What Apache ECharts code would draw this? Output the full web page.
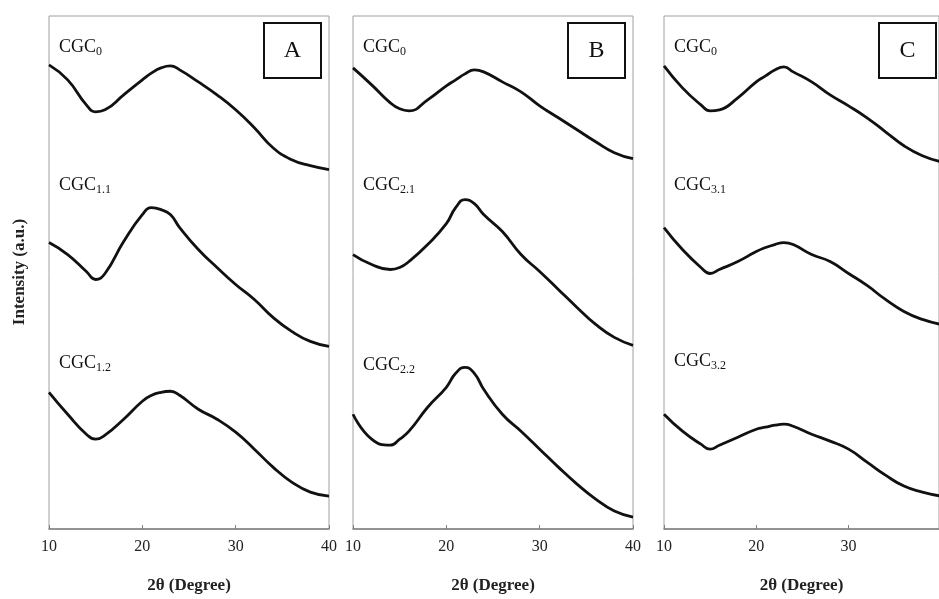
<!DOCTYPE html>
<html><head><meta charset="utf-8">
<script src="https://cdn.jsdelivr.net/npm/echarts@6/dist/echarts.min.js"></script>
<style>html,body{margin:0;padding:0;background:#fff;overflow:hidden}#c{width:939px;height:599px}</style>
</head><body><div id="c"></div>
<script>
const twoTheta = [10,12,14,15,16,18,20,21,22,23,24,26,28,30,32,34,36,38,40];
const xTicks = [10,20,30,40];
const panelNames = ['A','B','C'];
const curveLabels = [
  [['CGC','0'],['CGC','1.1'],['CGC','1.2']],
  [['CGC','0'],['CGC','2.1'],['CGC','2.2']],
  [['CGC','0'],['CGC','3.1'],['CGC','3.2']]
];
// intensity (a.u., stacked offsets)
const A_CGC0  = [465,450,425,418,420,435,450,457,462,464,460,448,435,420,402,382,370,364,360];
const A_CGC11 = [287,275,258,250,256,288,315,322,320,315,302,280,262,245,230,212,198,188,183];
const A_CGC12 = [137,115,95,90,94,110,128,134,137,138,134,120,110,97,80,62,47,37,33];
const B_CGC0  = [462,445,427,421,419,430,444,450,456,460,458,448,438,424,412,400,388,377,371];
const B_CGC21 = [275,265,260,262,268,285,306,322,330,326,315,298,275,258,240,222,205,192,184];
const B_CGC22 = [115,90,84,90,98,122,142,156,162,156,140,115,98,80,62,45,30,18,12];
const C_CGC0  = [464,442,425,419,420,432,448,454,460,463,458,448,435,424,412,398,384,374,368];
const C_CGC31 = [302,280,262,256,260,268,278,282,285,287,285,275,268,256,244,230,218,210,205];
const C_CGC32 = [115,98,85,80,84,92,100,102,104,105,103,95,88,80,67,54,43,37,33];
const panels = [[A_CGC0,A_CGC11,A_CGC12],[B_CGC0,B_CGC21,B_CGC22],[C_CGC0,C_CGC31,C_CGC32]];

const lefts = [49,353,664];
const serif = '"Liberation Serif","DejaVu Serif",serif';
const grids=[],xAxes=[],yAxes=[],series=[],graphics=[];
const labelY=[[38,176,354],[38,176,356],[38,176,352]];
panels.forEach((curves,p)=>{
  const g={left:lefts[p],top:16,height:514,show:true,borderColor:'#a0a0a0',borderWidth:1};
  if(p===2) g.right=0; else g.width=280;
  grids.push(g);
  xAxes.push({type:'value',gridIndex:p,min:10,max:p===2?39.8:40,interval:10,
    axisLine:{show:true,onZero:false,lineStyle:{color:'#808080',width:1.5}},
    axisTick:{show:true,inside:true,length:4,lineStyle:{color:'#808080'}},
    splitLine:{show:false},
    axisLabel:{fontFamily:serif,fontSize:16,color:'#222',margin:10,showMaxLabel:p!==2,
      formatter:v=>xTicks.includes(v)?String(v):''},
    name:'2θ (Degree)',nameLocation:'middle',nameGap:48,
    nameTextStyle:{fontFamily:serif,fontSize:17,fontWeight:'bold',color:'#222'}});
  yAxes.push({type:'value',gridIndex:p,min:0,max:514,show:false});
  curves.forEach((vals,i)=>{
    series.push({type:'line',xAxisIndex:p,yAxisIndex:p,smooth:0.5,showSymbol:false,
      data:twoTheta.map((x,k)=>[x,vals[k]]),
      lineStyle:{color:'#111',width:2.8}});
    const lb=curveLabels[p][i];
    graphics.push({type:'text',left:lefts[p]+10,top:labelY[p][i],
      style:{text:'{a|'+lb[0]+'}{s|'+lb[1]+'}',
        rich:{a:{fontFamily:serif,fontSize:18,fill:'#111'},
              s:{fontFamily:serif,fontSize:12,fill:'#111',padding:[10,0,0,0]}}}});
  });
  graphics.push({type:'rect',shape:{x:lefts[p]+215,y:23,width:57,height:55},
    style:{fill:'#fff',stroke:'#111',lineWidth:2}});
  graphics.push({type:'text',x:lefts[p]+243.5,y:50.5,
    style:{text:panelNames[p],fontFamily:serif,fontSize:24,fill:'#111',align:'center',verticalAlign:'middle'}});
});
graphics.push({type:'text',x:20,y:272,rotation:Math.PI/2,
  style:{text:'Intensity (a.u.)',fontFamily:serif,fontSize:17,fontWeight:'bold',fill:'#222',align:'center',verticalAlign:'middle'}});
const chart=echarts.init(document.getElementById('c'));
chart.setOption({animation:false,grid:grids,xAxis:xAxes,yAxis:yAxes,series:series,graphic:graphics});
</script></body></html>
